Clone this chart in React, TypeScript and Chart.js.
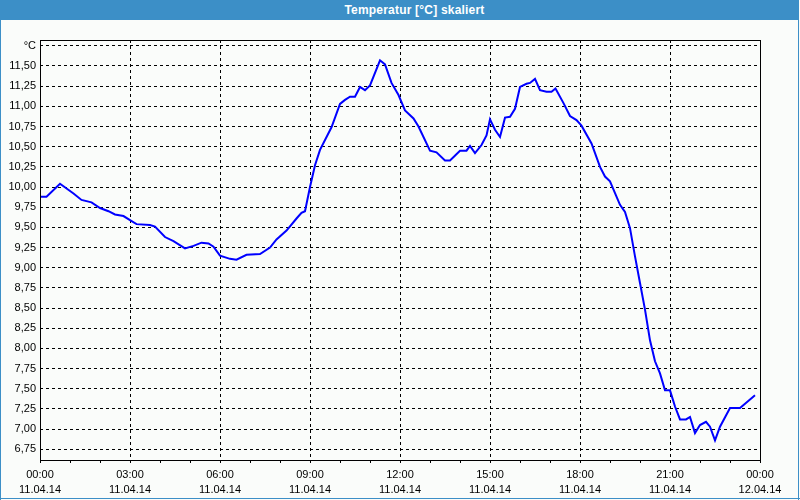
import React, { useEffect, useRef } from "react";
import { Chart, registerables } from "chart.js";

Chart.register(...registerables);

// minutes since 11.04.14 00:00
const minutes = [0, 13, 40, 67, 83, 103, 120, 137, 150, 167, 180, 193, 220, 230, 250, 267, 290, 307, 323, 337, 347, 360, 380, 393, 413, 440, 460, 473, 493, 513, 523, 530, 540, 550, 560, 583, 600, 610, 620, 630, 640, 650, 660, 680, 690, 703, 717, 730, 747, 757, 780, 793, 810, 820, 840, 853, 860, 870, 883, 893, 900, 910, 920, 930, 940, 950, 960, 973, 980, 990, 1000, 1013, 1023, 1031, 1047, 1060, 1073, 1083, 1103, 1120, 1130, 1140, 1160, 1170, 1180, 1190, 1200, 1210, 1220, 1230, 1240, 1250, 1260, 1270, 1280, 1292, 1300, 1310, 1320, 1332, 1340, 1350, 1360, 1380, 1400, 1430];

const temperatures = [9.88, 9.88, 10.04, 9.92, 9.84, 9.81, 9.74, 9.70, 9.66, 9.64, 9.59, 9.54, 9.53, 9.51, 9.38, 9.33, 9.24, 9.27, 9.31, 9.30, 9.26, 9.15, 9.11, 9.10, 9.16, 9.17, 9.25, 9.35, 9.46, 9.61, 9.68, 9.70, 10.00, 10.27, 10.46, 10.74, 11.03, 11.08, 11.12, 11.12, 11.24, 11.20, 11.26, 11.57, 11.52, 11.29, 11.14, 10.95, 10.85, 10.75, 10.45, 10.43, 10.33, 10.33, 10.45, 10.45, 10.51, 10.42, 10.52, 10.64, 10.84, 10.71, 10.62, 10.86, 10.87, 10.97, 11.24, 11.28, 11.29, 11.34, 11.20, 11.18, 11.18, 11.22, 11.04, 10.88, 10.83, 10.76, 10.54, 10.25, 10.13, 10.07, 9.78, 9.69, 9.49, 9.14, 8.81, 8.48, 8.10, 7.84, 7.69, 7.48, 7.48, 7.28, 7.12, 7.12, 7.15, 6.95, 7.05, 7.09, 7.03, 6.86, 7.03, 7.26, 7.26, 7.42];

const xTickTimes = ["00:00", "03:00", "06:00", "09:00", "12:00", "15:00", "18:00", "21:00", "00:00"];
const xTickDates = ["11.04.14", "11.04.14", "11.04.14", "11.04.14", "11.04.14", "11.04.14", "11.04.14", "11.04.14", "12.04.14"];
const yTickValues = [6.75, 7.0, 7.25, 7.5, 7.75, 8.0, 8.25, 8.5, 8.75, 9.0, 9.25, 9.5, 9.75, 10.0, 10.25, 10.5, 10.75, 11.0, 11.25, 11.5, 11.75];
const yUnitLabel = "°C";
const title = "Temperatur [°C] skaliert";

const BLUE = "#3c8fc7";
const BG = "#fafcfa";

const framePlugin = {
  id: "frame",
  afterDraw(chart: any) {
    const { ctx, chartArea } = chart;
    ctx.save();
    ctx.strokeStyle = "#000";
    ctx.lineWidth = 1;
    ctx.setLineDash([]);
    ctx.strokeRect(
      chartArea.left + 0.5,
      chartArea.top + 0.5,
      chartArea.right - chartArea.left,
      chartArea.bottom - chartArea.top
    );
    ctx.restore();
  },
};

export default function App() {
  const canvasRef = useRef<HTMLCanvasElement | null>(null);

  useEffect(() => {
    document.body.style.margin = "0";
    const canvas = canvasRef.current;
    if (!canvas) return;
    const font = { family: "'Liberation Sans', Arial, sans-serif", size: 11, lineHeight: "15px" };
    const chart = new Chart(canvas, {
      type: "line",
      data: {
        datasets: [
          {
            data: minutes.map((m, i) => ({ x: m, y: temperatures[i] })),
            borderColor: "#0000ff",
            borderWidth: 2,
            pointRadius: 0,
            tension: 0,
            fill: false,
          },
        ],
      },
      options: {
        animation: false,
        responsive: false,
        devicePixelRatio: 1,
        layout: { padding: { top: 40, right: 40, left: 0, bottom: 0 } },
        plugins: { legend: { display: false }, tooltip: { enabled: false }, title: { display: false } },
        scales: {
          x: {
            type: "linear",
            min: 0,
            max: 1440,
            afterBuildTicks: (scale: any) => {
              const t = [];
              for (let v = 0; v <= 1440; v += 60) t.push({ value: v });
              scale.ticks = t;
            },
            afterFit: (scale: any) => {
              scale.height = 40;
            },
            ticks: {
              autoSkip: false,
              maxRotation: 0,
              minRotation: 0,
              padding: 4,
              color: "#000",
              font,
              callback: (v: any) => {
                const n = Number(v);
                if (n % 180 !== 0) return "";
                const i = n / 180;
                return [xTickTimes[i], xTickDates[i]];
              },
            },
            grid: {
              display: true,
              drawTicks: true,
              tickLength: 3,
              tickColor: "#000",
              lineWidth: 1,
              color: (ctx: any) => (ctx.tick && ctx.tick.value % 180 === 0 ? "#000" : "rgba(0,0,0,0)"),
            },
            border: { display: false, dash: [3, 3] },
          },
          y: {
            type: "linear",
            min: 6.617,
            max: 11.822,
            afterBuildTicks: (scale: any) => {
              scale.ticks = yTickValues.map((v) => ({ value: v }));
            },
            afterFit: (scale: any) => {
              scale.width = 40;
            },
            ticks: {
              padding: 4,
              color: "#000",
              font,
              callback: (v: any) => {
                const n = Number(v);
                if (Math.abs(n - 11.75) < 1e-6) return yUnitLabel;
                return n.toFixed(2).replace(".", ",");
              },
            },
            grid: {
              display: true,
              drawTicks: false,
              color: "#000",
              lineWidth: 1,
            },
            border: { display: false, dash: [3, 3] },
          },
        },
      },
      plugins: [framePlugin],
    });
    return () => chart.destroy();
  }, []);

  return (
    <div
      style={{
        position: "absolute",
        left: 0,
        top: 0,
        width: 800,
        height: 500,
        background: BG,
        overflow: "hidden",
      }}
    >
      <canvas ref={canvasRef} width={800} height={500} style={{ position: "absolute", left: 0, top: 0, width: 800, height: 500 }} />
      <div
        style={{
          position: "absolute",
          left: 0,
          top: 0,
          width: 799,
          height: 20,
          background: BLUE,
          color: "#fff",
          fontFamily: "'Liberation Sans', Arial, sans-serif",
          fontWeight: "bold",
          fontSize: 12,
          letterSpacing: "0.2px",
          lineHeight: "20px",
          textAlign: "center",
          boxSizing: "border-box",
          paddingLeft: 30,
        }}
      >
        {title}
      </div>
      <div style={{ position: "absolute", left: 0, top: 0, width: 1, height: 500, background: BLUE }} />
      <div style={{ position: "absolute", left: 798, top: 0, width: 1, height: 500, background: BLUE }} />
      <div style={{ position: "absolute", left: 0, top: 498, width: 800, height: 1, background: BLUE }} />
    </div>
  );
}
